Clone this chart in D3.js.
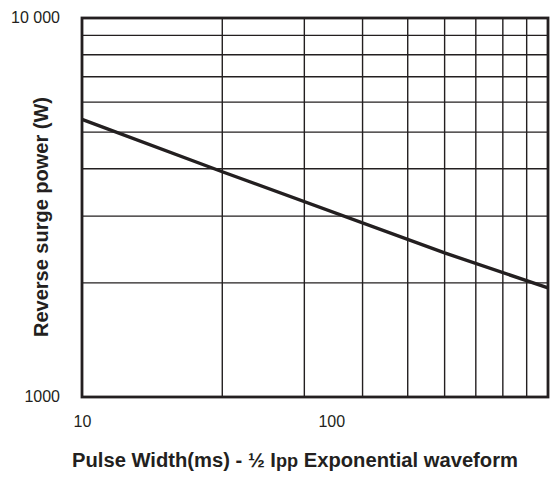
<!DOCTYPE html>
<html>
<head>
<meta charset="utf-8">
<script src="https://cdn.jsdelivr.net/npm/d3@7"></script>
<style>
  body { margin: 0; background: #fff; }
  svg text { fill: #231f20; }
</style>
</head>
<body>
<div class="container"></div>
<script>
const w = 551;
const h = 479;
const margin = { top: 18, left: 82, right: 3, bottom: 82 };
const width = w - margin.left - margin.right;
const height = h - margin.top - margin.bottom;
const ink = "#231f20";

// series
const pulseWidth = [10, 20, 60, 100];
const surgePower = [5400, 3930, 2400, 1940];

const xGrid = [20, 30, 40, 50, 60, 70, 80, 90];
const yGrid = [2000, 3000, 4000, 5000, 6000, 7000, 8000, 9000];
const xTickLabels = ["10", "100"];
const yTickLabels = ["1000", "10 000"];

const svg = d3.select(".container").append("svg")
    .attr("width", w)
    .attr("height", h);

const chart = svg.append("g")
    .attr("transform", `translate(${margin.left}, ${margin.top})`);

const x = d3.scaleLog().domain([10, 100]).range([0, width]);
const y = d3.scaleLog().domain([1000, 10000]).range([height, 0]);
// the printed "100" sits short of the right edge in the source chart
const xLabel = d3.scaleLog().domain([10, 100]).range([0, width * 0.535]);

chart.append("g")
  .selectAll("line")
  .data(xGrid)
  .enter().append("line")
    .attr("x1", d => x(d)).attr("x2", d => x(d))
    .attr("y1", 0).attr("y2", height)
    .attr("stroke", ink)
    .attr("stroke-width", 1.4);

chart.append("g")
  .selectAll("line")
  .data(yGrid)
  .enter().append("line")
    .attr("x1", 0).attr("x2", width)
    .attr("y1", d => y(d)).attr("y2", d => y(d))
    .attr("stroke", ink)
    .attr("stroke-width", 1.4);

chart.append("rect")
    .attr("width", width)
    .attr("height", height)
    .attr("fill", "none")
    .attr("stroke", ink)
    .attr("stroke-width", 2.8);

const line = d3.line()
    .x((d, i) => x(pulseWidth[i]))
    .y(d => y(d));

chart.append("path")
    .datum(surgePower)
    .attr("d", line)
    .attr("fill", "none")
    .attr("stroke", ink)
    .attr("stroke-width", 3.4);

const xAxis = d3.axisBottom(xLabel)
    .tickValues([10, 100])
    .tickFormat((d, i) => xTickLabels[i])
    .tickSize(0);

chart.append("g")
    .attr("transform", `translate(0, ${height + 16})`)
    .call(xAxis)
    .call(g => g.select(".domain").remove())
    .call(g => g.selectAll("text")
        .attr("font-family", "Liberation Sans, Arial, sans-serif")
        .attr("font-size", 16)
        .attr("fill", ink));

const yAxis = d3.axisLeft(y)
    .tickValues([1000, 10000])
    .tickFormat((d, i) => yTickLabels[i])
    .tickSize(0);

chart.append("g")
    .attr("transform", "translate(-19, -1)")
    .call(yAxis)
    .call(g => g.select(".domain").remove())
    .call(g => g.selectAll("text")
        .attr("font-family", "Liberation Sans, Arial, sans-serif")
        .attr("font-size", 16)
        .attr("fill", ink));

// condensed bold look: squeeze Liberation Sans bold to the printed width
const titleFont = "'Liberation Sans', Arial, sans-serif";

const xTitle = svg.append("text")
    .attr("x", 72)
    .attr("y", 467)
    .attr("textLength", 446)
    .attr("lengthAdjust", "spacingAndGlyphs")
    .attr("font-family", titleFont)
    .attr("font-weight", "bold")
    .attr("font-size", 20);
xTitle.append("tspan").text("Pulse Width(ms) - ½ I");
xTitle.append("tspan").attr("font-size", 18).text("pp");
xTitle.append("tspan").text(" Exponential waveform");

svg.append("text")
    .attr("transform", "translate(48, 337) rotate(-90)")
    .attr("textLength", 240)
    .attr("lengthAdjust", "spacingAndGlyphs")
    .attr("font-family", titleFont)
    .attr("font-weight", "bold")
    .attr("font-size", 20)
    .text("Reverse surge power (W)");
</script>
</body>
</html>
